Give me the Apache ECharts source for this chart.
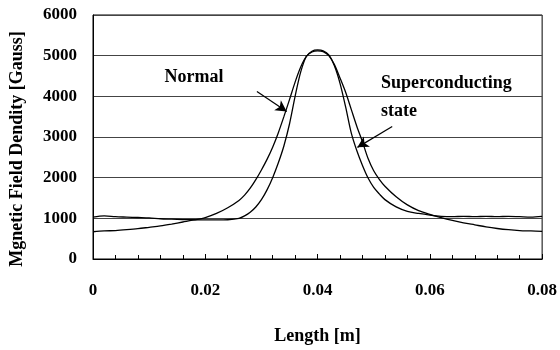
<!DOCTYPE html>
<html>
<head>
<meta charset="utf-8">
<script src="https://cdn.jsdelivr.net/npm/echarts@6/dist/echarts.min.js"></script>
<style>html,body{margin:0;padding:0;background:#fff}#c{width:560px;height:350px}</style>
</head>
<body>
<div id="c"></div>
<script>
// Length [m]
const normalX = [0,0.002,0.004,0.006,0.008,0.010,0.012,0.014,0.016,0.018,0.020,0.022,0.024,0.026,0.027,0.028,0.029,0.030,0.031,0.032,0.033,0.034,0.035,0.036,0.037,0.038,0.039,0.040,0.041,0.042,0.043,0.044,0.045,0.046,0.047,0.048,0.049,0.050,0.051,0.052,0.054,0.056,0.058,0.060,0.062,0.064,0.066,0.068,0.070,0.072,0.074,0.076,0.078,0.080];
const normalY = [670,690,700,720,745,780,815,860,910,960,1020,1120,1260,1440,1570,1740,1950,2190,2450,2750,3100,3500,3920,4350,4720,4980,5090,5120,5100,5000,4780,4450,4100,3680,3260,2880,2470,2170,1960,1790,1530,1330,1190,1100,1020,950,890,840,790,750,720,700,690,680];

const superX = [0,0.002,0.004,0.006,0.008,0.010,0.012,0.014,0.016,0.018,0.020,0.022,0.024,0.026,0.027,0.028,0.029,0.030,0.031,0.032,0.033,0.034,0.035,0.036,0.037,0.038,0.039,0.040,0.041,0.042,0.043,0.044,0.045,0.046,0.047,0.048,0.049,0.050,0.051,0.052,0.054,0.056,0.058,0.060,0.062,0.064,0.066,0.068,0.070,0.072,0.074,0.076,0.078,0.080];
const superY = [1030,1060,1040,1030,1020,1010,990,980,970,965,960,960,965,1000,1060,1150,1280,1460,1700,2000,2360,2780,3320,4000,4600,4980,5110,5140,5120,5020,4750,4320,3740,3100,2660,2300,1990,1760,1600,1460,1280,1170,1120,1080,1050,1040,1050,1040,1050,1040,1050,1040,1030,1050];

const xTicks = [0, 0.02, 0.04, 0.06, 0.08];
const yTicks = [0, 1000, 2000, 3000, 4000, 5000, 6000];

const normalArrow = [[0.0292, 4120], [0.0345, 3630]];
const superArrow = [[0.0533, 3260], [0.0471, 2745]];

const FONT = '"Liberation Serif", "DejaVu Serif", serif';
const pair = (xs, ys) => xs.map((x, i) => [x, ys[i]]);

const chart = echarts.init(document.getElementById('c'), null, {renderer: 'canvas'});
chart.setOption({
  animation: false,
  backgroundColor: '#fff',
  grid: {left: 93, right: 17, top: 15, bottom: 90, show: true, borderColor: '#000', borderWidth: 1, containLabel: false},
  xAxis: {
    type: 'value', min: xTicks[0], max: xTicks[xTicks.length - 1], interval: 0.02,
    name: 'Length [m]', nameLocation: 'middle', nameGap: 68,
    nameTextStyle: {fontFamily: FONT, fontWeight: 'bold', fontSize: 18, color: '#000'},
    axisLine: {show: true, lineStyle: {color: '#000', width: 1}},
    axisTick: {show: true, inside: true, length: 5, lineStyle: {color: '#000'}},
    minorTick: {show: true, splitNumber: 5, length: 4, lineStyle: {color: '#000'}},
    splitLine: {show: false},
    axisLabel: {margin: 23, fontFamily: FONT, fontWeight: 'bold', fontSize: 17, color: '#000',
      formatter: v => (Math.abs(v) < 1e-9 ? '0' : v.toFixed(2))}
  },
  yAxis: {
    type: 'value', min: yTicks[0], max: yTicks[yTicks.length - 1], interval: 1000,
    axisLine: {show: true, lineStyle: {color: '#000', width: 1}},
    axisTick: {show: false},
    splitLine: {show: true, lineStyle: {color: '#444', width: 1}},
    axisLabel: {margin: 16, fontFamily: FONT, fontWeight: 'bold', fontSize: 17, color: '#000',
      formatter: v => String(v)}
  },
  graphic: [
    {type: 'text', x: 17, y: 149, rotation: Math.PI / 2,
      style: {text: 'Mgnetic Field Dendity [Gauss]', font: 'bold 18px ' + FONT, fill: '#000', align: 'center', verticalAlign: 'middle'}},
    {type: 'text', x: 194, y: 77,
      style: {text: 'Normal', font: 'bold 18px ' + FONT, fill: '#000', align: 'center', verticalAlign: 'middle'}},
    {type: 'text', x: 381, y: 83,
      style: {text: 'Superconducting', font: 'bold 18px ' + FONT, fill: '#000', align: 'left', verticalAlign: 'middle'}},
    {type: 'text', x: 381, y: 111,
      style: {text: 'state', font: 'bold 18px ' + FONT, fill: '#000', align: 'left', verticalAlign: 'middle'}}
  ],
  series: [
    {
      name: 'Normal', type: 'line', data: pair(normalX, normalY), showSymbol: false, smooth: 0.3,
      lineStyle: {color: '#000', width: 1.3},
      markLine: {silent: true, symbol: ['none', 'arrow'], symbolSize: [9, 11], label: {show: false},
        lineStyle: {color: '#000', width: 1.2, type: 'solid'},
        data: [[{coord: normalArrow[0]}, {coord: normalArrow[1]}]]}
    },
    {
      name: 'Superconducting state', type: 'line', data: pair(superX, superY), showSymbol: false, smooth: 0.3,
      lineStyle: {color: '#000', width: 1.3},
      markLine: {silent: true, symbol: ['none', 'arrow'], symbolSize: [9, 11], label: {show: false},
        lineStyle: {color: '#000', width: 1.2, type: 'solid'},
        data: [[{coord: superArrow[0]}, {coord: superArrow[1]}]]}
    }
  ]
});
</script>
</body>
</html>
